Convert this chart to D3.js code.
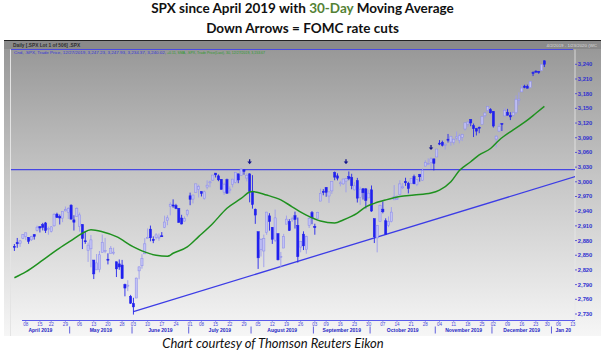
<!DOCTYPE html>
<html>
<head>
<meta charset="utf-8">
<script src="https://cdn.jsdelivr.net/npm/d3@7"></script>
<style>
  body { margin: 0; background: #fff; }
  svg { display: block; }
</style>
</head>
<body>
<div id="chart"></div>
<script>
// daily SPX candles (trading days only), Apr 2 - Dec 27 2019
var dates = [
  "2019-04-02","2019-04-03","2019-04-04","2019-04-05","2019-04-08","2019-04-09","2019-04-10","2019-04-11","2019-04-12","2019-04-15",
  "2019-04-16","2019-04-17","2019-04-18","2019-04-22","2019-04-23","2019-04-24","2019-04-25","2019-04-26","2019-04-29","2019-04-30",
  "2019-05-01","2019-05-02","2019-05-03","2019-05-06","2019-05-07","2019-05-08","2019-05-09","2019-05-10","2019-05-13","2019-05-14",
  "2019-05-15","2019-05-16","2019-05-17","2019-05-20","2019-05-21","2019-05-22","2019-05-23","2019-05-24","2019-05-28","2019-05-29",
  "2019-05-30","2019-05-31",
  "2019-06-03","2019-06-04","2019-06-05","2019-06-06","2019-06-07","2019-06-10","2019-06-11","2019-06-12","2019-06-13","2019-06-14",
  "2019-06-17","2019-06-18","2019-06-19","2019-06-20","2019-06-21","2019-06-24","2019-06-25","2019-06-26","2019-06-27","2019-06-28",
  "2019-07-01","2019-07-02","2019-07-03","2019-07-05","2019-07-08","2019-07-09","2019-07-10","2019-07-11","2019-07-12","2019-07-15",
  "2019-07-16","2019-07-17","2019-07-18","2019-07-19","2019-07-22","2019-07-23","2019-07-24","2019-07-25","2019-07-26","2019-07-29",
  "2019-07-30","2019-07-31",
  "2019-08-01","2019-08-02","2019-08-05","2019-08-06","2019-08-07","2019-08-08","2019-08-09","2019-08-12","2019-08-13","2019-08-14",
  "2019-08-15","2019-08-16","2019-08-19","2019-08-20","2019-08-21","2019-08-22","2019-08-23","2019-08-26","2019-08-27","2019-08-28",
  "2019-08-29","2019-08-30",
  "2019-09-03","2019-09-04","2019-09-05","2019-09-06","2019-09-09","2019-09-10","2019-09-11","2019-09-12","2019-09-13","2019-09-16",
  "2019-09-17","2019-09-18","2019-09-19","2019-09-20","2019-09-23","2019-09-24","2019-09-25","2019-09-26","2019-09-27","2019-09-30",
  "2019-10-01","2019-10-02","2019-10-03","2019-10-04","2019-10-07","2019-10-08","2019-10-09","2019-10-10","2019-10-11","2019-10-14",
  "2019-10-15","2019-10-16","2019-10-17","2019-10-18","2019-10-21","2019-10-22","2019-10-23","2019-10-24","2019-10-25","2019-10-28",
  "2019-10-29","2019-10-30","2019-10-31",
  "2019-11-01","2019-11-04","2019-11-05","2019-11-06","2019-11-07","2019-11-08","2019-11-11","2019-11-12","2019-11-13","2019-11-14",
  "2019-11-15","2019-11-18","2019-11-19","2019-11-20","2019-11-21","2019-11-22","2019-11-25","2019-11-26","2019-11-27","2019-11-29",
  "2019-12-02","2019-12-03","2019-12-04","2019-12-05","2019-12-06","2019-12-09","2019-12-10","2019-12-11","2019-12-12","2019-12-13",
  "2019-12-16","2019-12-17","2019-12-18","2019-12-19","2019-12-20","2019-12-23","2019-12-24","2019-12-26","2019-12-27"
];
var opens = [
  2868.2,2876.1,2874.0,2884.2,2888.5,2886.6,2881.4,2891.9,2900.9,2908.3,
  2912.3,2916.0,2904.8,2898.8,2910.0,2934.0,2929.0,2925.8,2940.6,2937.1,
  2952.3,2922.2,2929.2,2908.9,2913.0,2879.6,2859.8,2863.1,2840.2,2820.1,
  2820.4,2855.8,2858.6,2841.9,2854.0,2856.1,2836.7,2832.4,2830.0,2790.3,
  2786.9,2766.2,
  2751.5,2762.6,2818.1,2828.5,2852.9,2885.8,2903.3,2882.7,2886.2,2886.8,
  2889.8,2906.7,2920.6,2949.6,2952.7,2951.4,2945.8,2926.1,2919.7,2932.9,
  2971.4,2964.7,2978.1,2984.3,2979.8,2965.5,2989.3,2999.6,3003.4,3017.8,
  3012.1,3005.1,2978.9,3004.3,2981.9,2994.7,2998.8,3016.3,3013.3,3024.5,
  3007.7,3016.2,
  2980.3,2943.9,2898.1,2861.2,2858.7,2896.2,2930.5,2907.1,2880.7,2894.2,
  2846.2,2864.7,2913.5,2919.0,2922.0,2930.9,2911.1,2866.7,2893.1,2861.3,
  2910.4,2937.1,
  2909.0,2924.7,2960.6,2980.3,2988.4,2971.0,2981.4,3018.5,3012.2,2996.4,
  2995.7,3001.5,3010.4,3008.4,2983.5,3002.4,2968.4,2985.7,2985.5,2967.1,
  2983.7,2924.8,2885.4,2918.6,2944.2,2920.4,2911.1,2918.6,2963.1,2965.8,
  2973.6,2989.7,3000.8,2996.8,2996.5,3010.7,2994.0,3014.8,3003.3,3032.1,
  3035.4,3039.7,3046.9,
  3050.7,3079.0,3080.8,3075.1,3087.0,3081.2,3080.3,3089.3,3084.2,3090.7,
  3107.9,3117.9,3127.5,3114.7,3108.5,3111.4,3117.4,3134.9,3145.5,3147.2,
  3143.9,3087.4,3103.5,3119.2,3134.6,3141.9,3135.4,3135.8,3141.2,3166.7,
  3183.6,3195.4,3195.2,3192.3,3223.3,3226.1,3225.5,3227.2,3247.2
];
var highs = [
  2872.9,2885.3,2881.3,2893.2,2896.0,2886.9,2889.7,2893.4,2910.5,2909.6,
  2916.1,2918.0,2908.4,2909.5,2936.3,2936.8,2933.1,2939.9,2949.5,2948.2,
  2954.1,2931.7,2947.9,2937.3,2913.0,2898.0,2876.0,2891.3,2840.2,2852.5,
  2858.7,2892.2,2885.5,2853.9,2868.9,2865.5,2836.7,2841.4,2840.5,2792.0,
  2799.0,2769.0,
  2763.1,2804.5,2827.3,2852.1,2885.0,2904.8,2910.6,2888.6,2895.2,2894.5,
  2897.3,2930.8,2931.7,2958.1,2964.2,2954.9,2946.5,2932.6,2929.3,2944.0,
  2977.9,2973.2,2995.8,2994.0,2980.8,2981.9,3003.0,3002.3,3013.9,3017.8,
  3015.0,3005.3,2998.3,3006.5,2990.7,3005.9,3019.6,3016.3,3028.0,3025.6,
  3017.2,3017.4,
  3013.6,2945.5,2898.1,2884.4,2892.2,2938.7,2935.8,2907.6,2943.3,2894.2,
  2856.7,2893.6,2931.0,2923.6,2928.7,2939.1,2927.0,2879.3,2898.8,2890.0,
  2930.5,2940.4,
  2914.4,2938.8,2985.9,2985.0,2989.4,2979.4,3000.9,3021.0,3017.3,3002.2,
  3006.2,3007.8,3021.2,3016.4,2999.2,3008.0,2989.8,2987.3,2987.3,2983.8,
  2992.5,2924.8,2911.1,2953.7,2959.8,2925.5,2929.3,2948.5,2993.3,2972.8,
  3003.3,2997.5,3008.3,3000.0,3007.3,3014.6,3004.8,3016.1,3027.4,3044.1,
  3047.9,3050.1,3046.9,
  3067.0,3085.2,3084.0,3078.3,3097.8,3093.1,3088.3,3102.6,3098.1,3098.2,
  3120.5,3124.2,3127.6,3119.0,3110.1,3112.9,3133.8,3142.7,3154.3,3150.3,
  3144.3,3095.0,3119.4,3119.4,3150.6,3148.9,3142.1,3144.0,3176.3,3182.7,
  3197.7,3198.2,3198.5,3205.5,3225.6,3227.8,3226.4,3240.1,3247.9
];
var lows = [
  2858.8,2865.2,2867.1,2883.0,2880.8,2873.3,2879.1,2882.0,2898.4,2896.5,
  2900.7,2895.5,2891.9,2896.4,2908.5,2926.1,2912.8,2917.6,2939.4,2924.1,
  2923.4,2900.5,2929.2,2898.2,2862.6,2873.3,2836.4,2825.4,2801.4,2820.1,
  2815.1,2855.8,2854.2,2831.3,2854.0,2851.1,2805.5,2820.2,2801.6,2766.1,
  2776.7,2750.5,
  2728.8,2762.6,2800.9,2822.5,2852.9,2885.5,2878.5,2874.7,2882.0,2879.6,
  2887.3,2905.4,2911.4,2931.5,2946.9,2944.1,2916.0,2913.0,2918.6,2929.1,
  2952.2,2955.9,2978.0,2968.0,2970.1,2963.4,2984.6,2988.8,3001.9,3008.8,
  3001.2,2984.3,2973.1,2975.9,2976.7,2988.6,2996.8,2997.2,3012.6,3014.5,
  3000.9,2958.1,
  2945.2,2914.1,2822.1,2847.4,2825.7,2891.7,2900.2,2873.1,2877.1,2839.6,
  2825.5,2864.7,2913.5,2899.6,2917.9,2904.5,2835.0,2856.0,2860.6,2853.1,
  2905.7,2913.3,
  2891.9,2921.9,2960.6,2972.5,2969.4,2957.0,2975.3,3003.2,3002.9,2990.7,
  2993.7,2978.6,3003.2,2984.7,2982.2,2957.7,2952.9,2963.7,2945.5,2967.1,
  2938.7,2874.9,2855.9,2918.6,2935.7,2892.7,2907.4,2917.1,2963.1,2962.9,
  2973.6,2985.2,2991.8,2976.3,2995.4,2995.0,2991.2,3000.4,3001.9,3032.1,
  3034.8,3026.0,3023.2,
  3050.7,3074.9,3072.2,3065.9,3080.2,3073.6,3075.8,3084.7,3078.8,3083.3,
  3104.6,3112.1,3113.5,3091.4,3094.6,3099.3,3117.4,3131.0,3143.4,3139.3,
  3110.8,3070.3,3102.5,3103.8,3134.6,3135.5,3126.1,3133.2,3138.5,3156.5,
  3183.6,3191.0,3191.1,3192.3,3216.0,3222.3,3220.5,3227.2,3234.4
];
var closes = [
  2867.2,2873.4,2879.4,2892.7,2895.8,2878.2,2888.2,2888.3,2907.4,2905.6,
  2907.1,2900.5,2905.0,2908.0,2933.7,2927.3,2926.2,2939.9,2943.0,2945.8,
  2923.7,2917.5,2945.6,2932.5,2884.1,2879.4,2870.7,2881.4,2811.9,2834.4,
  2851.0,2876.3,2859.5,2840.2,2864.4,2856.3,2822.2,2826.1,2802.4,2783.0,
  2788.9,2752.1,
  2744.5,2803.3,2826.2,2843.5,2873.3,2886.7,2885.7,2879.8,2891.6,2887.0,
  2889.7,2917.8,2926.5,2954.2,2950.5,2945.4,2917.4,2913.8,2924.9,2941.8,
  2964.3,2973.0,2995.8,2990.4,2976.0,2979.6,2993.1,2999.9,3013.8,3014.3,
  3004.0,2984.4,2995.1,2976.6,2985.0,3005.5,3019.6,3003.7,3025.9,3021.0,
  3013.2,2980.4,
  2953.6,2932.1,2844.7,2881.8,2884.0,2938.1,2918.7,2882.7,2926.3,2840.6,
  2847.6,2888.7,2923.7,2900.5,2924.4,2923.0,2847.1,2878.4,2869.2,2887.9,
  2924.6,2926.5,
  2906.3,2937.8,2976.0,2978.7,2978.4,2979.4,3000.9,3009.6,3007.4,2998.0,
  3005.7,3006.7,3006.8,2992.1,2991.8,2966.6,2984.9,2977.6,2961.8,2976.7,
  2940.3,2887.6,2910.6,2952.0,2938.8,2893.1,2919.4,2938.1,2970.3,2966.2,
  2995.7,2989.7,2998.0,2986.2,3006.7,2996.0,3004.5,3010.3,3022.6,3039.4,
  3036.9,3046.8,3037.6,
  3066.9,3078.3,3074.6,3076.8,3085.2,3093.1,3087.0,3091.8,3094.0,3096.6,
  3120.5,3122.0,3120.2,3108.5,3103.5,3110.3,3133.6,3140.5,3153.6,3141.0,
  3113.9,3093.2,3112.8,3117.4,3145.9,3136.0,3132.5,3141.6,3168.6,3168.8,
  3191.5,3192.5,3191.1,3205.4,3221.2,3224.0,3223.4,3239.9,3240.0
];

// trading days after the last candle, only used to place the axis labels
var futureDates = ["2019-12-30","2019-12-31","2020-01-02","2020-01-03","2020-01-06","2020-01-07",
  "2020-01-08","2020-01-09","2020-01-10","2020-01-13","2020-01-14"];

// 30-day moving average
var maDates = ["2019-04-02","2019-04-08","2019-04-16","2019-04-24","2019-05-01","2019-05-07","2019-05-10",
  "2019-05-16","2019-05-23","2019-06-03","2019-06-06","2019-06-13","2019-06-19","2019-06-21","2019-06-28",
  "2019-07-05","2019-07-12","2019-07-19","2019-07-26","2019-07-31","2019-08-01","2019-08-08","2019-08-15",
  "2019-08-21","2019-08-28","2019-09-05","2019-09-12","2019-09-17","2019-09-24","2019-09-27","2019-10-02",
  "2019-10-08","2019-10-15","2019-10-22","2019-10-30","2019-11-04","2019-11-08","2019-11-13","2019-11-19",
  "2019-11-22","2019-11-29","2019-12-04","2019-12-11","2019-12-18","2019-12-23","2019-12-27"];
var maValues = [2804,2816,2840,2861,2880,2895,2902,
  2898,2888,2867,2859,2850,2848,2854,2867,
  2888,2915,2946,2966,2979,2980,2973,2963,
  2949,2932,2920,2916,2922,2936,2949,2956,
  2963,2970,2973,2977,2983,3000,3023,3041,
  3055,3068,3085,3106,3126,3140,3154];

// drawn lines and FOMC arrows
var resistanceLevel = 3025;
var trendDates = ["2019-06-03", "2020-01-14"];
var trendValues = [2735, 3011];
var fomcDates = ["2019-07-31", "2019-09-18", "2019-10-30"];
var fomcArrowTips = [3036, 3036, 3065];

var yTicks = [2730,2760,2790,2820,2850,2880,2910,2940,2970,3000,3030,3060,3090,3120,3150,3180,3210,3240];
var monthLabels = ["April 2019","May 2019","June 2019","July 2019","August 2019","September 2019",
  "October 2019","November 2019","December 2019","Jan 20"];

// svg
var width = 605, height = 362;
var svg = d3.select("#chart").append("svg")
  .attr("width", width)
  .attr("height", height)
  .style("font-family", "'Liberation Sans', Arial, sans-serif");

var plotLeft = 11, plotRight = 575, plotTop = 49.5, plotBottom = 320.5;

var parse = d3.timeParse("%Y-%m-%d");
var allDates = dates.concat(futureDates).map(parse);
var indexOf = {};
dates.concat(futureDates).forEach(function(d, i) { indexOf[d] = i; });

var x = d3.scaleLinear().domain([-1.2, 197.8]).range([plotLeft, plotRight]);
var y = d3.scaleLinear().domain([2730, 3240]).range([314, 64.3]);

// background gradient
var defs = svg.append("defs");
var grad = defs.append("linearGradient").attr("id", "bg")
  .attr("x1", 0).attr("y1", 0).attr("x2", 0).attr("y2", 1);
grad.append("stop").attr("offset", "0%").attr("stop-color", "#959595");
grad.append("stop").attr("offset", "45%").attr("stop-color", "#c4c4c4");
grad.append("stop").attr("offset", "100%").attr("stop-color", "#f6f6f6");

defs.append("clipPath").attr("id", "plotclip")
  .append("rect")
  .attr("x", plotLeft).attr("y", plotTop)
  .attr("width", plotRight - plotLeft).attr("height", plotBottom - plotTop);

svg.append("rect")
  .attr("x", 4).attr("y", 40)
  .attr("width", 597).attr("height", 296)
  .attr("fill", "url(#bg)");

// header strip
svg.append("rect").attr("x", 4).attr("y", 40).attr("width", 597).attr("height", 9)
  .attr("fill", "#8a8a8a");
svg.append("line").attr("x1", 4).attr("x2", 601).attr("y1", 40.5).attr("y2", 40.5)
  .attr("stroke", "#222").attr("stroke-width", 1.2);
svg.append("text").attr("x", 13).attr("y", 47)
  .attr("font-size", 4.8).attr("font-weight", "bold").attr("fill", "#2e2e2e")
  .text("Daily [.SPX Lot 1 of 506] .SPX");
svg.append("text").attr("x", 597).attr("y", 46.5).attr("text-anchor", "end")
  .attr("font-size", 4.4).attr("fill", "#dcdcdc")
  .text("4/2/2019 - 1/23/2020 (WC");

// left edge strip
svg.append("line").attr("x1", plotLeft - 0.5).attr("x2", plotLeft - 0.5)
  .attr("y1", plotTop).attr("y2", 336)
  .attr("stroke", "#e4e4e4").attr("stroke-width", 1);

// plot top border and y axis line
svg.append("line").attr("x1", plotLeft).attr("x2", 573)
  .attr("y1", plotTop).attr("y2", plotTop)
  .attr("stroke", "#4a4ae0").attr("stroke-width", 1);
svg.append("line").attr("x1", plotRight).attr("x2", plotRight)
  .attr("y1", plotTop).attr("y2", plotBottom)
  .attr("stroke", "#e8e8e8").attr("stroke-width", 0.8);

// legend line
svg.append("text").attr("x", 14).attr("y", 54.3)
  .attr("font-size", 4.4).attr("fill", "#3535d8")
  .attr("textLength", 152).attr("lengthAdjust", "spacingAndGlyphs")
  .text("Cnd, .SPX, Trade Price, 12/27/2019, 3,247.23, 3,247.93, 3,234.37, 3,240.02,");
svg.append("text").attr("x", 167).attr("y", 54.3)
  .attr("font-size", 4.4).attr("fill", "#2a9a2a")
  .attr("textLength", 98).attr("lengthAdjust", "spacingAndGlyphs")
  .text("+0.11, SMA, .SPX, Trade Price(Last), 30, 12/27/2019, 3,153.67");

var plot = svg.append("g").attr("clip-path", "url(#plotclip)");

// horizontal resistance line
plot.append("line")
  .attr("x1", plotLeft).attr("x2", plotRight)
  .attr("y1", y(resistanceLevel)).attr("y2", y(resistanceLevel))
  .attr("stroke", "#4646e4").attr("stroke-width", 1.3);

// rising trendline
plot.append("line")
  .attr("x1", x(indexOf[trendDates[0]])).attr("y1", y(trendValues[0]))
  .attr("x2", x(indexOf[trendDates[1]])).attr("y2", y(trendValues[1]))
  .attr("stroke", "#3c3ce6").attr("stroke-width", 1.3);

// candles
var candles = dates.map(function(d, i) {
  return {date: d, i: i, o: opens[i], h: highs[i], l: lows[i], c: closes[i]};
});
var cg = plot.append("g").attr("id", "candles")
  .selectAll("g").data(candles).enter().append("g");
cg.append("line")
  .attr("x1", function(d) { return x(d.i); })
  .attr("x2", function(d) { return x(d.i); })
  .attr("y1", function(d) { return y(d.h); })
  .attr("y2", function(d) { return y(d.l); })
  .attr("stroke", function(d) { return d.c >= d.o ? "#9c9cee" : "#2424ec"; })
  .attr("stroke-width", 0.9);
cg.append("rect")
  .attr("x", function(d) { return x(d.i) - 1.1; })
  .attr("width", 2.2)
  .attr("y", function(d) { return y(Math.max(d.o, d.c)); })
  .attr("height", function(d) { return Math.max(1, Math.abs(y(d.o) - y(d.c))); })
  .attr("fill", function(d) { return d.c >= d.o ? "#c2c2f4" : "#2020ee"; })
  .attr("stroke", function(d) { return d.c >= d.o ? "#8a8aea" : "#2020ee"; })
  .attr("stroke-width", 0.5);

// 30-day moving average
var maLine = d3.line()
  .x(function(d, i) { return x(indexOf[maDates[i]]); })
  .y(function(d) { return y(d); })
  .curve(d3.curveMonotoneX);
plot.append("path")
  .attr("d", maLine(maValues))
  .attr("fill", "none")
  .attr("stroke", "#1f911f")
  .attr("stroke-width", 1.5);

// FOMC down arrows
fomcDates.forEach(function(d, k) {
  var ax = x(indexOf[d]);
  var tip = y(fomcArrowTips[k]);
  plot.append("line")
    .attr("x1", ax).attr("x2", ax).attr("y1", tip - 5).attr("y2", tip - 2)
    .attr("stroke", "#14148c").attr("stroke-width", 1.3);
  plot.append("path")
    .attr("d", "M" + (ax - 2.3) + "," + (tip - 2.6) + "L" + (ax + 2.3) + "," + (tip - 2.6) + "L" + ax + "," + tip + "Z")
    .attr("fill", "#14148c");
});

// y axis
var yAxis = svg.append("g").attr("id", "yaxis");
yTicks.forEach(function(v) {
  yAxis.append("line")
    .attr("x1", plotRight).attr("x2", plotRight + 2)
    .attr("y1", y(v)).attr("y2", y(v))
    .attr("stroke", "#3b3bd6").attr("stroke-width", 0.8);
  yAxis.append("text")
    .attr("x", plotRight + 2.8).attr("y", y(v) + 2)
    .attr("font-size", 5.8).attr("font-weight", "bold").attr("fill", "#3030d0")
    .text(d3.format(",")(v));
});

// x axis: line, weekly ticks, month separators
var xAxis = svg.append("g").attr("id", "xaxis");
xAxis.append("line")
  .attr("x1", 22).attr("x2", plotRight)
  .attr("y1", plotBottom).attr("y2", plotBottom)
  .attr("stroke", "#5a5aea").attr("stroke-width", 1);

var fmtDay = d3.timeFormat("%d");
var monthStarts = [];
allDates.forEach(function(d, i) {
  if (i == 0) return;
  var prev = allDates[i - 1];
  if (+d3.timeMonday.floor(d) != +d3.timeMonday.floor(prev)) {
    xAxis.append("line")
      .attr("x1", x(i)).attr("x2", x(i))
      .attr("y1", plotBottom).attr("y2", plotBottom + 1.8)
      .attr("stroke", "#5a5aea").attr("stroke-width", 0.6);
    xAxis.append("text")
      .attr("x", x(i)).attr("y", plotBottom + 5.2)
      .attr("text-anchor", "middle")
      .attr("font-size", 4.6).attr("fill", "#4a4ad8")
      .text(fmtDay(d));
  }
  if (d.getMonth() != prev.getMonth()) monthStarts.push(i);
});

var bounds = [plotLeft].concat(monthStarts.map(function(i) { return x(i - 0.5); })).concat([plotRight]);
monthStarts.forEach(function(i) {
  xAxis.append("line")
    .attr("x1", x(i - 0.5)).attr("x2", x(i - 0.5))
    .attr("y1", plotBottom + 6).attr("y2", plotBottom + 13)
    .attr("stroke", "#3a3ad8").attr("stroke-width", 0.8);
});
monthLabels.forEach(function(m, k) {
  xAxis.append("text")
    .attr("x", (bounds[k] + bounds[k + 1]) / 2)
    .attr("y", plotBottom + 11.3)
    .attr("text-anchor", "middle")
    .attr("font-size", 5).attr("font-weight", "bold").attr("fill", "#2626c4")
    .text(m);
});

// titles
var title = svg.append("text")
  .attr("x", 302.5).attr("y", 12.8)
  .attr("text-anchor", "middle")
  .attr("font-family", "Lato, 'Open Sans', sans-serif")
  .attr("font-size", 13.5).attr("font-weight", "bold").attr("fill", "#111");
title.append("tspan").text("SPX since April 2019 with ");
title.append("tspan").attr("fill", "#548235").text("30-Day");
title.append("tspan").text(" Moving Average");

svg.append("text")
  .attr("x", 302.5).attr("y", 32.8)
  .attr("text-anchor", "middle")
  .attr("font-family", "Lato, 'Open Sans', sans-serif")
  .attr("font-size", 13.5).attr("font-weight", "bold").attr("fill", "#111")
  .text("Down Arrows = FOMC rate cuts");

// caption
svg.append("text")
  .attr("x", 273).attr("y", 347.5)
  .attr("text-anchor", "middle")
  .attr("font-family", "Lato, 'Open Sans', sans-serif")
  .attr("font-size", 13).attr("font-style", "italic").attr("fill", "#111")
  .text("Chart courtesy of Thomson Reuters Eikon");
</script>
</body>
</html>
